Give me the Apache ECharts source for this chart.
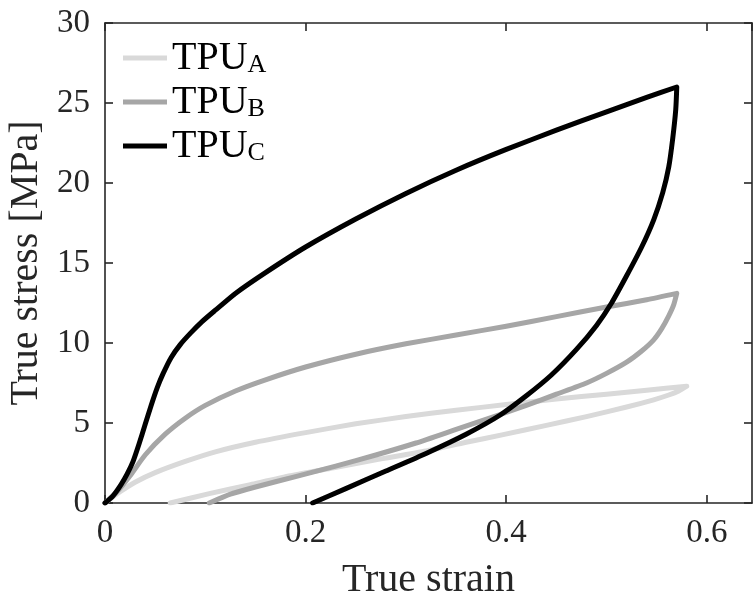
<!DOCTYPE html>
<html>
<head>
<meta charset="utf-8">
<script src="https://cdn.jsdelivr.net/npm/echarts@6/dist/echarts.min.js"></script>
<style>html,body{margin:0;padding:0;background:#fff}#c{width:753px;height:595px}</style>
</head>
<body>
<div id="c"></div>
<script>
// ---- data ----
const seriesNames = ['TPU_A', 'TPU_B', 'TPU_C'];
const xTicks = [0, 0.2, 0.4, 0.6];
const yTicks = [0, 5, 10, 15, 20, 25, 30];

// TPU_A: loading then unloading
const tpuA_strain = [0, 0.015, 0.03, 0.05, 0.08, 0.11, 0.15, 0.2, 0.25, 0.3, 0.35, 0.4, 0.45, 0.5, 0.54, 0.58,
                     0.572, 0.562, 0.547, 0.52, 0.48, 0.44, 0.397, 0.36, 0.32, 0.27, 0.228, 0.185, 0.145, 0.105, 0.065];
const tpuA_stress = [0, 0.7, 1.3, 1.9, 2.6, 3.2, 3.8, 4.4, 4.95, 5.4, 5.8, 6.15, 6.5, 6.8, 7.05, 7.3,
                     7.0, 6.75, 6.45, 6.0, 5.4, 4.85, 4.27, 3.8, 3.25, 2.7, 2.2, 1.7, 1.15, 0.6, 0];

// TPU_B
const tpuB_strain = [0, 0.012, 0.025, 0.04, 0.06, 0.08, 0.1, 0.13, 0.16, 0.2, 0.25, 0.3, 0.35, 0.4, 0.45, 0.5, 0.54, 0.57,
                     0.567, 0.562, 0.555, 0.547, 0.535, 0.52, 0.5, 0.48, 0.45, 0.42, 0.39, 0.35, 0.31, 0.27, 0.23, 0.19, 0.15, 0.125, 0.104];
const tpuB_stress = [0, 0.7, 1.7, 3.0, 4.3, 5.3, 6.1, 7.0, 7.7, 8.5, 9.3, 9.95, 10.5, 11.05, 11.65, 12.25, 12.7, 13.1,
                     12.4, 11.7, 10.9, 10.2, 9.5, 8.8, 8.1, 7.5, 6.8, 6.1, 5.45, 4.6, 3.75, 3.0, 2.3, 1.65, 1.0, 0.55, 0];

// TPU_C
const tpuC_strain = [0, 0.008, 0.016, 0.022, 0.028, 0.034, 0.04, 0.046, 0.052, 0.058, 0.066, 0.075, 0.085, 0.097, 0.11, 0.13, 0.16, 0.2, 0.25, 0.3, 0.35, 0.4, 0.45, 0.5, 0.54, 0.57,
                     0.569, 0.566, 0.562, 0.556, 0.547, 0.535, 0.52, 0.505, 0.49, 0.47, 0.445, 0.42, 0.394, 0.36, 0.32, 0.28, 0.24, 0.207];
const tpuC_stress = [0, 0.45, 1.15, 1.8, 2.6, 3.7, 4.9, 6.1, 7.2, 8.1, 9.1, 9.9, 10.6, 11.35, 12.05, 13.1, 14.4, 16.0, 17.75, 19.35, 20.8, 22.1, 23.3, 24.45, 25.35, 26.0,
                     24.6, 22.8, 21.0, 19.4, 17.7, 16.0, 14.2, 12.5, 11.1, 9.6, 8.0, 6.7, 5.5, 4.3, 3.1, 2.0, 0.9, 0];

const colors = ['#d9d9d9', '#a6a6a6', '#000000'];
const lineWidths = [5, 5, 5];

function pairs(xs, ys) { return xs.map((x, i) => [x, ys[i]]); }
const seriesData = [pairs(tpuA_strain, tpuA_stress), pairs(tpuB_strain, tpuB_stress), pairs(tpuC_strain, tpuC_stress)];

const FONT = 'Liberation Serif';
const AXC = '#262626';

const chart = echarts.init(document.getElementById('c'), null, { renderer: 'canvas' });

const xFmt = v => (xTicks.some(t => Math.abs(t - v) < 1e-9) ? String(+v.toFixed(1)) : '');
const yFmt = v => (yTicks.indexOf(v) >= 0 ? String(v) : '');

const baseX = {
  type: 'value', min: 0, max: 0.645, interval: 0.2,
  axisLine: { show: true, onZero: false, lineStyle: { color: AXC, width: 1.6 } },
  axisTick: { show: true, inside: true, length: 8, lineStyle: { color: AXC, width: 1.6 } },
  splitLine: { show: false }
};
const baseY = {
  type: 'value', min: 0, max: 30, interval: 5,
  axisLine: { show: true, onZero: false, lineStyle: { color: AXC, width: 1.6 } },
  axisTick: { show: true, inside: true, length: 8, lineStyle: { color: AXC, width: 1.6 } },
  splitLine: { show: false }
};

const option = {
  animation: false,
  backgroundColor: '#ffffff',
  grid: { left: 105, right: 1, top: 23, bottom: 92, containLabel: false, outerBoundsMode: 'none' },
  xAxis: [
    Object.assign({}, baseX, {
      position: 'bottom',
      name: 'True strain', nameLocation: 'middle', nameGap: 57,
      nameTextStyle: { fontFamily: FONT, fontSize: 40, color: '#262626' },
      axisLabel: { show: true, formatter: xFmt, showMaxLabel: false, margin: 14, fontFamily: FONT, fontSize: 33, color: '#262626' }
    }),
    Object.assign({}, baseX, { position: 'top', axisLabel: { show: false } })
  ],
  yAxis: [
    Object.assign({}, baseY, {
      position: 'left',
      name: 'True stress [MPa]', nameLocation: 'middle', nameGap: 55, nameRotate: 90,
      nameTextStyle: { fontFamily: FONT, fontSize: 40, color: '#262626' },
      axisLabel: { show: true, formatter: yFmt, margin: 15, fontFamily: FONT, fontSize: 33, color: '#262626' }
    }),
    Object.assign({}, baseY, { position: 'right', axisLabel: { show: false } })
  ],
  legend: {
    orient: 'vertical', left: 118, top: 33,
    icon: 'rect', itemWidth: 44, itemHeight: 5, itemGap: 4,
    data: seriesNames,
    formatter: name => '{m|TPU}{s|' + name.split('_')[1] + '}',
    textStyle: {
      fontFamily: FONT, color: '#000',
      rich: {
        m: { fontFamily: FONT, fontSize: 40, color: '#000', verticalAlign: 'bottom', lineHeight: 40 },
        s: { fontFamily: FONT, fontSize: 26, color: '#000', verticalAlign: 'bottom', lineHeight: 40 }
      }
    }
  },
  series: seriesNames.map((n, i) => ({
    name: n, type: 'line', xAxisIndex: 0, yAxisIndex: 0,
    data: seriesData[i], showSymbol: false, symbol: 'none', smooth: 0.2,
    itemStyle: { color: colors[i] },
    lineStyle: { color: colors[i], width: lineWidths[i], cap: 'round', join: 'round' },
    z: 2 + i
  }))
};
chart.setOption(option);
</script>
</body>
</html>
